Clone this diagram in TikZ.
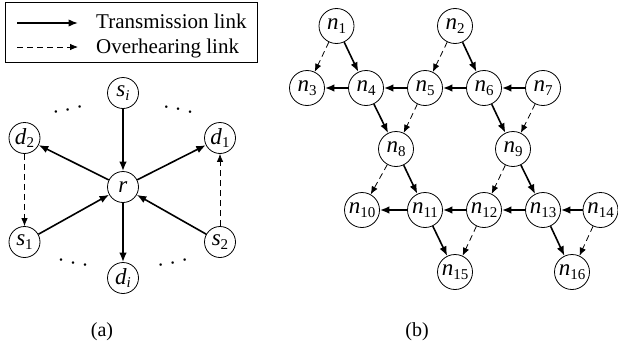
\documentclass[tikz,border=0pt]{standalone}
\usepackage{fontspec}
\setmainfont{Liberation Serif}
\usetikzlibrary{arrows.meta}
\newcommand\lblsub[2]{\textit{#1}\raisebox{-0.17em}{\fontsize{15}{15}\selectfont #2}}
\begin{document}
\begin{tikzpicture}[x=1pt,y=-1pt,
  every node/.style={font=\fontsize{21}{25}\selectfont},
  na/.style={circle,draw,line width=0.8pt,minimum size=31pt,inner sep=0pt,font=\fontsize{23}{27}\selectfont},
  nb/.style={circle,draw,line width=0.8pt,minimum size=35pt,inner sep=0pt,font=\fontsize{23}{27}\selectfont},
  tx/.style={line width=1.6pt,-{Latex[length=9.5pt,width=7.5pt]}},
  oh/.style={line width=0.8pt,dash pattern=on 6pt off 4pt,-{Latex[length=8pt,width=6.5pt]}},
  dotrow/.style={anchor=base,inner sep=0pt},
  captxt/.style={font=\fontsize{20}{24}\selectfont,inner sep=0pt}
]
\useasboundingbox (0,0) rectangle (618,348);
% legend
\draw[line width=0.8pt] (5,2) rectangle (257,62);
\coordinate (la1) at (17,23);
\coordinate (lb1) at (78,23);
\coordinate (la2) at (17,47);
\coordinate (lb2) at (78,47);
\draw[tx] (la1) -- (lb1);
\draw[oh] (la2) -- (lb2);
\node[anchor=base west,inner sep=0pt] (lt1) at (96,28.5) {Transmission link};
\node[anchor=base west,inner sep=0pt] (lt2) at (96,53) {Overhearing link};

% (a)
\node[na] (si) at (123,93) {\lblsub{s}{\itshape i}};
\node[na] (r) at (123,187) {\textit{r}};
\node[na] (d2) at (24.5,138) {\lblsub{d}{2}};
\node[na] (d1) at (220,138) {\lblsub{d}{1}};
\node[na] (s1) at (24.5,242) {\lblsub{s}{1}};
\node[na] (s2) at (220,242) {\lblsub{s}{2}};
\node[na] (di) at (123,278) {\lblsub{d}{\itshape i}};
\draw[tx] (si) -- (r);
\draw[tx] (r) -- (d2);
\draw[tx] (r) -- (d1);
\draw[tx] (s1) -- (r);
\draw[tx] (s2) -- (r);
\draw[tx] (r) -- (di);
\draw[oh] (d2) -- (s1);
\draw[oh] (s2) -- (d1);
\node[dotrow,rotate=13] (dtl) at (68,110.5) {.\,\,.\,\,.};
\node[dotrow,rotate=-13] (dtr) at (178,110.5) {.\,\,.\,\,.};
\node[dotrow,rotate=-11] (dbl) at (73,263.5) {.\,\,.\,\,.};
\node[dotrow,rotate=11] (dbr) at (173,263.5) {.\,\,.\,\,.};

% (b)
\node[nb] (n1) at (336.5,26) {\lblsub{n}{1}};
\node[nb] (n2) at (455,26) {\lblsub{n}{2}};
\node[nb] (n3) at (307,88) {\lblsub{n}{3}};
\node[nb] (n4) at (366,88) {\lblsub{n}{4}};
\node[nb] (n5) at (425,88) {\lblsub{n}{5}};
\node[nb] (n6) at (484,88) {\lblsub{n}{6}};
\node[nb] (n7) at (543,88) {\lblsub{n}{7}};
\node[nb] (n8) at (396,149) {\lblsub{n}{8}};
\node[nb] (n9) at (513,149) {\lblsub{n}{9}};
\node[nb] (n10) at (362,210) {\lblsub{n}{10}};
\node[nb] (n11) at (425,210) {\lblsub{n}{11}};
\node[nb] (n12) at (484,210) {\lblsub{n}{12}};
\node[nb] (n13) at (543,210) {\lblsub{n}{13}};
\node[nb] (n14) at (600.5,210) {\lblsub{n}{14}};
\node[nb] (n15) at (455,272) {\lblsub{n}{15}};
\node[nb] (n16) at (572,272) {\lblsub{n}{16}};
\draw[oh] (n1) -- (n3);
\draw[tx] (n1) -- (n4);
\draw[oh] (n2) -- (n5);
\draw[tx] (n2) -- (n6);
\draw[tx] (n4) -- (n3);
\draw[tx] (n5) -- (n4);
\draw[tx] (n6) -- (n5);
\draw[tx] (n7) -- (n6);
\draw[tx] (n4) -- (n8);
\draw[oh] (n5) -- (n8);
\draw[tx] (n6) -- (n9);
\draw[oh] (n7) -- (n9);
\draw[oh] (n8) -- (n10);
\draw[tx] (n8) -- (n11);
\draw[oh] (n9) -- (n12);
\draw[tx] (n9) -- (n13);
\draw[tx] (n11) -- (n10);
\draw[tx] (n12) -- (n11);
\draw[tx] (n13) -- (n12);
\draw[tx] (n14) -- (n13);
\draw[tx] (n11) -- (n15);
\draw[oh] (n12) -- (n15);
\draw[tx] (n13) -- (n16);
\draw[oh] (n14) -- (n16);

% captions
\node[captxt] (capa) at (102,332) {(a)};
\node[captxt] (capb) at (417,332) {(b)};
\end{tikzpicture}
\end{document}
